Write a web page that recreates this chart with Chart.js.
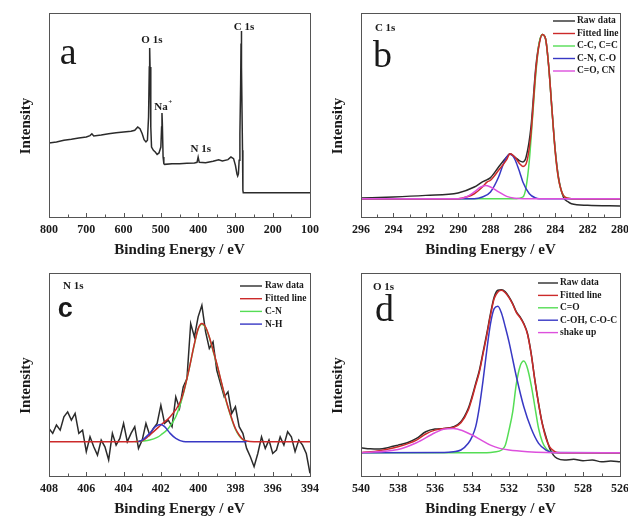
<!DOCTYPE html>
<html>
<head>
<meta charset="utf-8">
<script src="https://cdn.jsdelivr.net/npm/chart.js@4/dist/chart.umd.min.js"></script>
<style>
    html, body { margin: 0; padding: 0; background: #fff; }
    .panel { position: absolute; }
</style>
</head>
<body>
<div class="panel" style="left:0;top:0;width:324px;height:260px"><canvas id="chartA" width="324" height="260"></canvas></div>
<div class="panel" style="left:314px;top:0;width:314px;height:260px"><canvas id="chartB" width="314" height="260"></canvas></div>
<div class="panel" style="left:0;top:260px;width:324px;height:258px"><canvas id="chartC" width="324" height="258"></canvas></div>
<div class="panel" style="left:314px;top:260px;width:314px;height:258px"><canvas id="chartD" width="314" height="258"></canvas></div>
<script>
// (a) survey spectrum
const surveyEnergy = [800, 780, 760, 740, 720, 700, 690, 685, 680, 660, 640, 620, 600, 580, 570, 562, 556, 550, 545, 540, 536, 533, 531, 530, 529, 527, 525, 520, 515, 510, 505, 500, 498, 497, 496, 494, 492, 490, 470, 450, 430, 410, 403, 400, 397, 380, 360, 345, 335, 320, 312, 305, 300, 296, 294, 292, 290, 288, 286, 285, 284.5, 283, 281, 280, 279, 260, 200, 150, 100];
const surveyIntensity = [36.3, 36.8, 37.6, 38.1, 38.7, 39.2, 39.9, 40.8, 39.7, 40.2, 40.8, 41.3, 41.7, 42.0, 42.5, 44.1, 43.3, 40.8, 37.9, 36.8, 37.6, 49.0, 73.5, 82.8, 73.5, 44.1, 34.3, 32.7, 31.9, 30.7, 31.4, 34.3, 44.1, 51.0, 45.8, 29.4, 26.1, 25.8, 26.1, 26.1, 26.3, 26.5, 26.8, 29.4, 26.8, 26.6, 27.3, 28.1, 27.5, 28.1, 29.4, 28.6, 25.3, 21.2, 20.1, 21.2, 27.8, 40.8, 65.4, 85.0, 91.2, 73.5, 32.7, 13.1, 11.9, 11.9, 11.9, 11.9, 11.9];

// (b) C 1s
const c1sRawEnergy = [296, 294, 292, 290, 289, 288.5, 288.2, 288, 287.5, 287, 286.8, 286.5, 286.2, 286, 285.8, 285.5, 285.2, 285, 284.8, 284.6, 284.4, 284.2, 284, 283.8, 283.5, 283.2, 283, 282, 280];
const c1sRaw = [9.3, 9.8, 10.6, 11.8, 14.7, 17.2, 18.3, 19.3, 24.5, 29.4, 31.0, 29.4, 27.5, 27.0, 29.4, 44.1, 73.5, 85.0, 89.5, 87.4, 73.5, 52.3, 32.7, 19.6, 9.8, 7.4, 6.5, 5.7, 5.4];
const c1sFitEnergy = [296, 290, 289.5, 289, 288.5, 288.2, 288, 287.5, 287, 286.8, 286.5, 286.2, 286, 285.8, 285.5, 285.2, 285, 284.8, 284.6, 284.4, 284.2, 284, 283.8, 283.5, 283.2, 283, 280];
const c1sFit = [9.0, 9.0, 9.8, 11.4, 14.7, 17.2, 18.0, 22.9, 28.1, 31.0, 29.4, 26.1, 24.8, 26.1, 40.8, 71.9, 84.2, 89.4, 87.4, 73.5, 52.3, 31.9, 18.8, 10.6, 9.2, 9.0, 9.0];
const c1sCCEnergy = [296, 286.4, 286, 285.8, 285.6, 285.4, 285.2, 285, 284.8, 284.6, 284.4, 284.2, 284, 283.8, 283.5, 283.2, 283, 280];
const c1sCC = [9.0, 9.0, 9.8, 14.7, 27.8, 49.0, 70.3, 85.0, 89.4, 87.4, 73.5, 52.3, 31.9, 18.8, 10.6, 9.2, 9.0, 9.0];
const c1sCNEnergy = [296, 289, 288.5, 288, 287.5, 287.2, 287, 286.8, 286.6, 286.4, 286.2, 286, 285.6, 285.2, 285, 280];
const c1sCN = [9.0, 9.0, 9.8, 12.3, 19.6, 26.1, 29.4, 30.7, 29.7, 26.5, 22.1, 17.2, 11.4, 9.3, 9.0, 9.0];
const c1sCOEnergy = [296, 290, 289.5, 289, 288.6, 288.3, 288, 287.5, 287, 286.5, 286, 280];
const c1sCO = [9.0, 9.0, 9.8, 12.3, 14.7, 15.5, 14.7, 12.3, 10.1, 9.2, 9.0, 9.0];

// (c) N 1s
const n1sRawEnergy = [408, 407.8, 407.6, 407.4, 407.2, 407, 406.8, 406.6, 406.4, 406.2, 406, 405.8, 405.6, 405.4, 405.2, 405, 404.8, 404.6, 404.4, 404.2, 404, 403.8, 403.6, 403.4, 403.2, 403, 402.8, 402.6, 402.4, 402.2, 402, 401.8, 401.6, 401.4, 401.2, 401, 400.8, 400.6, 400.4, 400.2, 400, 399.8, 399.6, 399.4, 399.2, 399, 398.8, 398.6, 398.4, 398.2, 398, 397.8, 397.6, 397.4, 397.2, 397, 396.8, 396.6, 396.4, 396.2, 396, 395.8, 395.6, 395.4, 395.2, 395, 394.8, 394.6, 394.4, 394.2, 394];
const n1sRaw = [23.4, 21.0, 25.1, 22.6, 29.2, 31.6, 27.5, 30.8, 21.0, 22.6, 12.0, 19.3, 14.4, 10.3, 17.7, 14.4, 7.9, 21.0, 15.2, 18.5, 25.9, 16.9, 21.0, 24.3, 13.6, 17.7, 25.9, 20.2, 23.4, 25.9, 34.9, 25.9, 27.5, 24.3, 39.0, 33.3, 43.9, 48.0, 75.1, 68.5, 78.4, 84.1, 71.0, 62.8, 66.1, 52.1, 45.6, 39.0, 41.5, 30.8, 34.1, 24.3, 21.0, 13.6, 9.5, 4.6, 11.1, 19.3, 13.6, 17.7, 11.1, 12.8, 19.3, 15.2, 21.8, 19.3, 12.0, 17.7, 15.2, 11.1, 1.3];
const n1sFitEnergy = [408, 403.5, 403, 402.5, 402, 401.5, 401, 400.8, 400.5, 400.2, 400, 399.8, 399.6, 399.4, 399.2, 399, 398.8, 398.6, 398.4, 398.2, 398, 397.8, 397.6, 397.4, 397, 394];
const n1sFit = [16.9, 16.9, 17.4, 21.0, 25.1, 29.2, 35.7, 40.7, 52.1, 65.2, 72.6, 75.1, 73.4, 68.5, 62.0, 55.4, 48.0, 40.7, 34.1, 28.4, 23.4, 20.2, 18.0, 17.2, 16.9, 16.9];
const n1sCNEnergy = [403.4, 403, 402.6, 402.2, 402, 401.6, 401.2, 401, 400.8, 400.5, 400.2, 400, 399.8, 399.6, 399.4, 399.2, 399, 398.8, 398.6, 398.4, 398.2, 398, 397.8, 397.6, 397.4];
const n1sCN = [16.9, 17.2, 17.7, 19.0, 20.2, 23.4, 29.2, 34.1, 40.3, 52.1, 64.9, 72.3, 74.8, 73.1, 68.2, 61.6, 55.1, 47.7, 40.3, 33.8, 28.0, 23.1, 19.8, 17.9, 17.0];
const n1sNHEnergy = [403.2, 403, 402.6, 402.3, 402, 401.8, 401.5, 401.2, 400.8, 400.5, 397.4];
const n1sNH = [16.9, 17.7, 21.0, 24.3, 25.4, 24.3, 21.0, 18.5, 17.0, 16.9, 16.9];

// (d) O 1s
const o1sRawEnergy = [540, 539.5, 539, 538.5, 538, 537.5, 537, 536.5, 536, 535.5, 535, 534.6, 534.2, 534, 533.8, 533.6, 533.4, 533.2, 533, 532.8, 532.6, 532.4, 532.2, 532, 531.8, 531.6, 531.4, 531.2, 531, 530.8, 530.6, 530.4, 530.2, 530, 529.8, 529.6, 529.4, 529, 528.5, 528, 527.5, 527, 526.5, 526];
const o1sRaw = [13.9, 13.4, 13.3, 14.1, 15.2, 16.4, 18.5, 21.8, 23.1, 23.4, 24.3, 26.7, 33.3, 39.0, 45.6, 52.1, 61.1, 70.2, 80.0, 88.2, 91.5, 91.8, 90.7, 88.2, 84.9, 80.8, 78.4, 75.1, 70.2, 60.3, 47.2, 35.7, 25.9, 19.3, 13.6, 10.3, 8.7, 7.9, 8.2, 7.5, 7.9, 7.0, 7.4, 7.0];
const o1sFitEnergy = [540, 539, 538, 537, 536.5, 536, 535.5, 535, 534.6, 534.2, 534, 533.8, 533.6, 533.4, 533.2, 533, 532.8, 532.6, 532.4, 532.2, 532, 531.8, 531.6, 531.4, 531.2, 531, 530.8, 530.6, 530.4, 530.2, 530, 529.8, 529.6, 529.4, 529, 526];
const o1sFit = [11.5, 12.5, 14.4, 17.7, 20.7, 22.6, 23.4, 23.9, 26.2, 32.5, 38.2, 44.8, 51.3, 60.3, 69.3, 79.2, 87.4, 90.7, 91.5, 90.3, 87.9, 84.6, 80.5, 78.0, 74.8, 69.8, 60.0, 46.9, 35.4, 25.6, 18.5, 14.4, 12.5, 11.6, 11.5, 11.5];
const o1sCOEnergy = [540, 533.2, 532.8, 532.4, 532.2, 532, 531.8, 531.6, 531.4, 531.2, 531, 530.8, 530.6, 530.4, 530.2, 530, 529.8, 529.6, 526];
const o1sCO = [11.5, 11.5, 11.8, 12.8, 15.2, 22.6, 31.6, 45.6, 54.1, 56.6, 53.0, 44.8, 34.1, 23.4, 16.9, 13.6, 12.1, 11.5, 11.5];
const o1sCOHEnergy = [540, 535.5, 535, 534.6, 534.2, 534, 533.8, 533.6, 533.4, 533.2, 533, 532.8, 532.6, 532.4, 532.2, 532, 531.6, 531.2, 530.8, 530.4, 530, 529.6, 526];
const o1sCOH = [11.5, 11.6, 12.0, 12.8, 16.1, 19.3, 24.3, 34.1, 47.2, 62.0, 75.1, 82.5, 83.6, 80.0, 73.4, 66.1, 48.9, 34.1, 23.4, 16.1, 12.8, 11.6, 11.5];
const o1sShakeEnergy = [540, 538, 537, 536, 535.5, 535, 534.5, 534, 533.5, 533, 532.5, 532, 531, 530, 529, 526];
const o1sShake = [11.5, 13.1, 16.4, 21.3, 23.1, 23.4, 22.3, 20.2, 17.7, 15.2, 13.6, 12.8, 12.0, 11.6, 11.5, 11.5];

const RAW = '#2b2b2b', FIT = '#cc2a2a', GREEN = '#55dd55', BLUE = '#3838c4', PINK = '#dd50dd';
const SERIF = '"Liberation Serif", "Times New Roman", serif';

function pair(xs, ys) {
    return xs.map((x, i) => ({ x: x, y: ys[i] }));
}

// order: lower number is drawn on top
function line(label, xs, ys, color, order, smooth) {
    return {
        label: label,
        data: pair(xs, ys),
        borderColor: color,
        borderWidth: 1.5,
        pointRadius: 0,
        fill: false,
        order: order,
        cubicInterpolationMode: smooth ? 'monotone' : 'default',
        tension: 0,
    };
}

// frame box, inward ticks, labels and legend inside the plot
const framePlugin = {
    id: 'frame',
    afterDatasetsDraw(chart, args, opts) {
        const { ctx, chartArea: ca } = chart;
        const x = chart.scales.x, y = chart.scales.y;
        ctx.save();
        ctx.strokeStyle = '#555';
        ctx.lineWidth = 1;
        ctx.strokeRect(Math.round(ca.left) + 0.5, Math.round(ca.top) + 0.5, Math.round(ca.width), Math.round(ca.height));
        for (let v = x.min; v <= x.max + 1e-9; v += opts.minor) {
            const px = Math.round(x.getPixelForValue(v)) + 0.5;
            const major = Math.abs(v / opts.major - Math.round(v / opts.major)) < 1e-6;
            ctx.beginPath();
            ctx.moveTo(px, ca.bottom);
            ctx.lineTo(px, ca.bottom - (major ? 4 : 2.5));
            ctx.stroke();
        }

        ctx.fillStyle = '#1a1a1a';
        // y title
        ctx.save();
        ctx.translate(ca.left - 23, (ca.top + ca.bottom) / 2 + 11);
        ctx.rotate(-Math.PI / 2);
        ctx.font = 'bold 15px ' + SERIF;
        ctx.textAlign = 'center';
        ctx.textBaseline = 'middle';
        ctx.fillText('Intensity', 0, 0);
        ctx.restore();

        (opts.labels || []).forEach(l => {
            const px = x.getPixelForValue(l.x);
            const py = y.getPixelForValue(l.y);
            ctx.font = l.font;
            ctx.textBaseline = l.baseline || 'middle';
            if (l.sup) {
                const w = ctx.measureText(l.text).width;
                ctx.textAlign = 'left';
                const start = px - (w + 5) / 2;
                ctx.fillText(l.text, start, py);
                ctx.font = 'bold 7px ' + SERIF;
                ctx.fillText(l.sup, start + w + 0.5, py - 5);
            } else {
                ctx.textAlign = l.align || 'left';
                ctx.fillText(l.text, px, py);
            }
        });

        if (opts.legend) {
            const lg = opts.legend;
            ctx.font = 'bold 9.5px ' + SERIF;
            ctx.textAlign = 'left';
            ctx.textBaseline = 'middle';
            chart.data.datasets.forEach((ds, i) => {
                const ly = ca.top + lg.top + i * lg.step;
                ctx.strokeStyle = ds.borderColor;
                ctx.lineWidth = 1.4;
                ctx.beginPath();
                ctx.moveTo(ca.right - lg.lineStart, ly);
                ctx.lineTo(ca.right - lg.lineEnd, ly);
                ctx.stroke();
                ctx.fillText(ds.label, ca.right - lg.text, ly);
            });
        }
        ctx.restore();
    },
};

function makeChart(id, datasets, xs, frame, titlePad) {
    const canvas = document.getElementById(id);
    return new Chart(canvas.getContext('2d'), {
        type: 'line',
        data: { datasets: datasets },
        options: {
            responsive: false,
            animation: false,
            layout: { padding: { left: frame.left, right: frame.right, top: 13, bottom: 0 } },
            plugins: {
                legend: { display: false },
                tooltip: { enabled: false },
                frame: frame,
            },
            scales: {
                x: {
                    type: 'linear',
                    reverse: true,
                    min: xs.min,
                    max: xs.max,
                    grid: { display: false, drawTicks: false },
                    border: { display: false },
                    afterFit(scale) {
                        scale.height = frame.axisHeight;
                        scale.paddingLeft = 0;
                        scale.paddingRight = 0;
                    },
                    ticks: {
                        stepSize: xs.step,
                        padding: 6,
                        color: '#1a1a1a',
                        font: { family: SERIF, size: 12, weight: 'bold' },
                        maxRotation: 0,
                        autoSkip: false,
                    },
                    title: {
                        display: true,
                        text: 'Binding Energy / eV',
                        color: '#1a1a1a',
                        font: { family: SERIF, size: 15, weight: 'bold' },
                        padding: { top: 0, bottom: titlePad },
                    },
                },
                y: { display: false, min: 0, max: 100 },
            },
        },
        plugins: [framePlugin],
    });
}

const labelFont = 'bold 11px ' + SERIF;
const letterFont = '38px ' + SERIF;

makeChart('chartA', [
    line('Raw data', surveyEnergy, surveyIntensity, RAW, 0, false),
], { min: 100, max: 800, step: 100 }, {
    left: 49, right: 14, axisHeight: 43, major: 100, minor: 50,
    labels: [
        { text: 'a', x: 771, y: 75, font: letterFont, baseline: 'alphabetic' },
        { text: 'O 1s', x: 524, y: 86.5, font: labelFont, align: 'center' },
        { text: 'Na', sup: '+', x: 493, y: 54, font: labelFont },
        { text: 'N 1s', x: 393, y: 33.3, font: labelFont, align: 'center' },
        { text: 'C 1s', x: 277, y: 93, font: labelFont, align: 'center' },
    ],
}, 1);

makeChart('chartB', [
    line('Raw data', c1sRawEnergy, c1sRaw, RAW, 4, true),
    line('Fitted line', c1sFitEnergy, c1sFit, FIT, 1, true),
    line('C-C, C=C', c1sCCEnergy, c1sCC, GREEN, 3, true),
    line('C-N, C-O', c1sCNEnergy, c1sCN, BLUE, 2, true),
    line('C=O, CN', c1sCOEnergy, c1sCO, PINK, 0, true),
], { min: 280, max: 296, step: 2 }, {
    left: 47, right: 8, axisHeight: 43, major: 2, minor: 1,
    labels: [
        { text: 'C 1s', x: 295.14, y: 92.6, font: labelFont },
        { text: 'b', x: 295.26, y: 73.7, font: letterFont, baseline: 'alphabetic' },
    ],
    legend: { top: 8, step: 12.5, lineStart: 67, lineEnd: 45, text: 43 },
}, 1);

makeChart('chartC', [
    line('Raw data', n1sRawEnergy, n1sRaw, RAW, 3, false),
    line('Fitted line', n1sFitEnergy, n1sFit, FIT, 1, true),
    line('C-N', n1sCNEnergy, n1sCN, GREEN, 2, true),
    line('N-H', n1sNHEnergy, n1sNH, BLUE, 0, true),
], { min: 394, max: 408, step: 2 }, {
    left: 49, right: 14, axisHeight: 42, major: 2, minor: 1,
    labels: [
        { text: 'N 1s', x: 407.25, y: 93.3, font: labelFont },
        { text: 'c', x: 407.53, y: 78.3, font: 'bold 27px "Liberation Sans", Arial, sans-serif', baseline: 'alphabetic' },
    ],
    legend: { top: 13, step: 12.7, lineStart: 70, lineEnd: 48, text: 45 },
}, 0);

makeChart('chartD', [
    line('Raw data', o1sRawEnergy, o1sRaw, RAW, 4, true),
    line('Fitted line', o1sFitEnergy, o1sFit, FIT, 1, true),
    line('C=O', o1sCOEnergy, o1sCO, GREEN, 3, true),
    line('C-OH, C-O-C', o1sCOHEnergy, o1sCOH, BLUE, 2, true),
    line('shake up', o1sShakeEnergy, o1sShake, PINK, 0, true),
], { min: 526, max: 540, step: 2 }, {
    left: 47, right: 8, axisHeight: 42, major: 2, minor: 1,
    labels: [
        { text: 'O 1s', x: 539.35, y: 93.1, font: labelFont },
        { text: 'd', x: 539.24, y: 76.4, font: letterFont, baseline: 'alphabetic' },
    ],
    legend: { top: 10, step: 12.4, lineStart: 82, lineEnd: 62, text: 60 },
}, 0);
</script>
</body>
</html>
